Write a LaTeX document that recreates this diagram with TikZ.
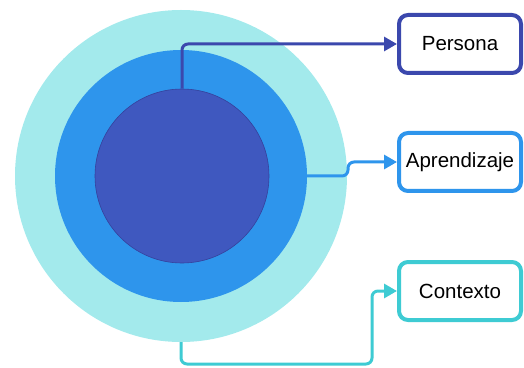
\documentclass[tikz,border=0pt]{standalone}
\usepackage{fontspec}
\setmainfont{Liberation Sans}
\usepackage{tikz}
\usetikzlibrary{arrows.meta}

\definecolor{ringout}{HTML}{A3EAEC}
\definecolor{ringmid}{HTML}{2E95EC}
\definecolor{ringin}{HTML}{3F58BF}
\definecolor{persblue}{HTML}{3B48AD}
\definecolor{contcyan}{HTML}{3ECBD3}

\tikzset{
  ring/.style={circle, inner sep=0pt, minimum size=#1},
  labelbox/.style={draw=#1, line width=4pt, rounded corners=9pt, fill=white,
    minimum width=122pt, minimum height=58pt, inner sep=1pt,
    font=\fontsize{20.5}{24}\selectfont},
  link/.style={draw=#1, line width=3pt, rounded corners=6pt,
    -{Triangle[length=13pt,width=14pt]}}
}

\begin{document}
\begin{tikzpicture}[x=1pt,y=1pt]
\useasboundingbox (0,0) rectangle (524,367);
% the three rings
\node[ring=332pt, fill=ringout] (outer) at (181,191) {};
\node[ring=252pt, fill=ringmid] (middle) at (181,191) {};
\node[ring=174pt, fill=ringin, draw=persblue!90!black, line width=0.6pt] (inner) at (182,191) {};

% boxes on the right
\node[labelbox=persblue] (persona) at (460,323) {Persona};
\node[labelbox=ringmid] (aprendizaje) at (460,205) {Aprendizaje};
\node[labelbox=contcyan] (contexto) at (460,76) {Contexto};

% connectors
\draw[link=persblue] (inner.north) |- (persona.west);
\coordinate (abend) at (348,205);
\draw[link=ringmid] (middle.east) -| (abend) -- (aprendizaje.west); %<-- small step up
\coordinate (cbend) at (372,3);
\draw[link=contcyan] (outer.south) |- (cbend) |- (contexto.west);
\end{tikzpicture}
\end{document}
